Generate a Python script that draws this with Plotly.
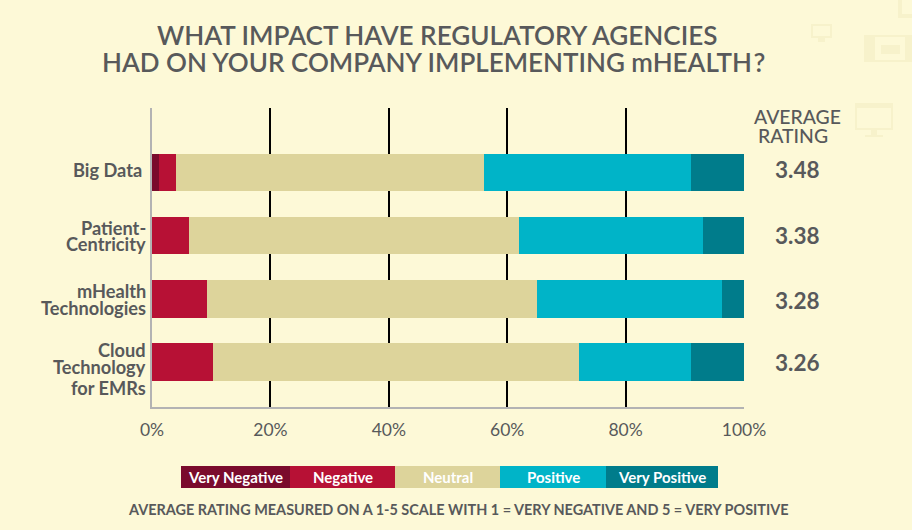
import plotly.graph_objects as go

W, H = 912, 530
L, R, T, B = 152, 744, 108, 407

categories = ["Big Data", "Patient-Centricity", "mHealth Technologies", "Cloud Technology for EMRs"]
category_lines = [["Big Data"], ["Patient-", "Centricity"], ["mHealth", "Technologies"], ["Cloud", "Technology", "for EMRs"]]
ratings = ["3.48", "3.38", "3.28", "3.26"]
series = ["Very Negative", "Negative", "Neutral", "Positive", "Very Positive"]
very_negative = [1.2, 0, 0, 0]
negative = [2.9, 6.3, 9.3, 10.3]
neutral = [51.9, 55.7, 55.7, 61.8]
positive = [35, 31, 31.2, 18.9]
very_positive = [9, 7, 3.8, 9]
colors = ["#7a0b2c", "#b71135", "#ddd49b", "#00b4c8", "#007c8b"]
tick_vals = [0, 20, 40, 60, 80, 100]
tick_text = ["0%", "20%", "40%", "60%", "80%", "100%"]
TEXT = "#58595b"
BG = "#fdf9d7"
ICON = "#f7f2cb"

fig = go.Figure()
for name, vals, c in zip(series, [very_negative, negative, neutral, positive, very_positive], colors):
    fig.add_bar(y=categories, x=vals, name=name, orientation="h", marker=dict(color=c, line_width=0),
                width=0.59, showlegend=False, hoverinfo="name+x")

shapes = []
annotations = []

def paper_ann(x, y, text, size, color=TEXT, weight=500, anchor="center", family="Lato"):
    annotations.append(dict(xref="paper", yref="paper", x=(x - L) / (R - L), y=(B - y) / (B - T),
                            text=text, showarrow=False, xanchor=anchor, yanchor="middle",
                            xshift=0, borderpad=0, borderwidth=0,
                            font=dict(family=family, size=size, color=color, weight=weight)))

def paper_rect(x0, y0, x1, y1, color):
    shapes.append(dict(type="rect", xref="paper", yref="paper",
                       x0=(x0 - L) / (R - L), x1=(x1 - L) / (R - L),
                       y0=(B - y0) / (B - T), y1=(B - y1) / (B - T),
                       fillcolor=color, line=dict(width=0), layer="below"))

# title
paper_ann(436.5, 35, "WHAT IMPACT HAVE REGULATORY AGENCIES", 26.1, weight=600)
paper_ann(433, 62, "HAD ON YOUR COMPANY IMPLEMENTING mHEALTH\u200a?", 26.0, weight=600)

# category labels, one text per line for the tight leading
label_y = [[170], [228, 244], [291, 308], [350, 367, 388]]
for lines, ys in zip(category_lines, label_y):
    for line, y in zip(lines, ys):
        paper_ann(142 if line == "Big Data" else 146, y, line, 18.2, weight=700, anchor="right")

# average rating column
paper_ann(797, 116, "AVERAGE", 19.4)
paper_ann(793, 135, "RATING", 19.4)
for y, r in zip([169, 235, 300, 362], ratings):
    paper_ann(797, y, r, 22.5, weight=700)

# legend swatches
edges = [181, 290, 395, 500, 606, 718]
for i, (name, c) in enumerate(zip(series, colors)):
    paper_rect(edges[i], 466, edges[i + 1], 488, c)
    paper_ann((edges[i] + edges[i + 1]) / 2, 477, name, 15, color="#ffffff", weight=700)

paper_ann(458, 509, "AVERAGE RATING MEASURED ON A 1-5 SCALE WITH 1 = VERY NEGATIVE AND 5 = VERY POSITIVE", 14.45, weight=700)

# faint decorative icons in the corner
for rect, col in [
    ((811, 24, 832, 38), ICON), ((813, 26, 830, 36), BG), ((818, 38, 825, 42), ICON),
    ((864, 35, 912, 62), ICON), ((875, 37, 905, 60), BG), ((881, 45, 900, 54), ICON),
    ((855, 103, 893, 130), ICON), ((857, 108, 891, 128), BG), ((871, 130, 877, 135), ICON), ((865, 135, 883, 137), ICON),
    ((898, 0, 912, 18), ICON), ((902, 0, 912, 14), BG),
]:
    paper_rect(*rect, col)

fig.update_layout(
    width=W, height=H, autosize=False, barmode="stack",
    margin=dict(l=L, r=W - R, t=T, b=H - B, autoexpand=False),
    paper_bgcolor=BG, plot_bgcolor=BG,
    shapes=shapes, annotations=annotations,
    xaxis=dict(range=[0, 100], tickvals=tick_vals, ticktext=tick_text, showgrid=True, gridcolor="#000000",
               gridwidth=2, zeroline=False, showline=True, linecolor="#b3b3b3", linewidth=2,
               ticks="", ticklabelstandoff=6, tickfont=dict(family="Lato", size=17.5, color=TEXT)),
    yaxis=dict(type="category", categoryorder="array", categoryarray=categories, range=[3.71, -1.02],
               showgrid=False, zeroline=False, showline=True, linecolor="#b3b3b3", linewidth=2,
               showticklabels=False, ticks=""),
)
fig.write_html("out.html", config={"displayModeBar": False},
               post_script="document.body.style.margin='0';document.body.style.background='%s';" % BG)
